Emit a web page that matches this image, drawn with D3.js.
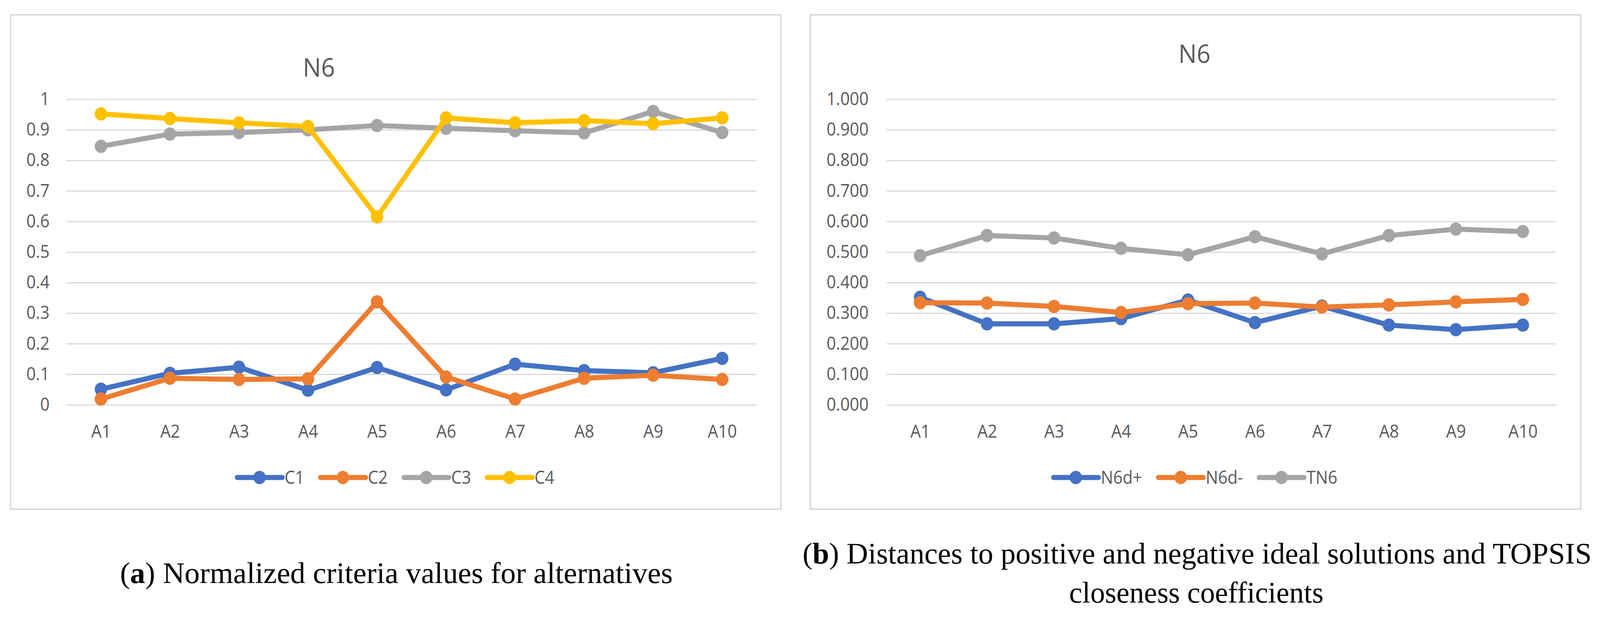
<!DOCTYPE html>
<html>
<head>
<meta charset="utf-8">
<script src="https://cdn.jsdelivr.net/npm/d3@7"></script>
<style>
  html, body { margin: 0; padding: 0; background: #fff; overflow: hidden; }
  #fig { display: block; width: 100vw; height: 100vh; }
  text { font-family: "Open Sans", "Noto Sans", sans-serif; }
</style>
</head>
<body>
<svg id="fig" viewBox="0 0 4360 1579" preserveAspectRatio="none"></svg>
<script>
// categories (alternatives)
const alternatives = ["A1", "A2", "A3", "A4", "A5", "A6", "A7", "A8", "A9", "A10"];

// panel (a): normalized criteria values
const c1 = [0.051, 0.103, 0.123, 0.048, 0.122, 0.049, 0.133, 0.112, 0.105, 0.152];
const c2 = [0.019, 0.087, 0.083, 0.085, 0.337, 0.091, 0.019, 0.087, 0.097, 0.083];
const c3 = [0.846, 0.886, 0.891, 0.900, 0.914, 0.905, 0.897, 0.890, 0.960, 0.891];
const c4 = [0.952, 0.937, 0.923, 0.911, 0.615, 0.939, 0.923, 0.930, 0.920, 0.939];

// panel (b): distances and closeness coefficients
const n6dPlus = [0.352, 0.265, 0.265, 0.282, 0.343, 0.269, 0.323, 0.261, 0.246, 0.261];
const n6dMinus = [0.334, 0.333, 0.322, 0.302, 0.331, 0.333, 0.320, 0.327, 0.337, 0.345];
const tn6 = [0.488, 0.554, 0.546, 0.512, 0.491, 0.550, 0.494, 0.554, 0.575, 0.567];

const yTicks = [0, 0.1, 0.2, 0.3, 0.4, 0.5, 0.6, 0.7, 0.8, 0.9, 1];

const blue = "#4472C4", orange = "#ED7D31", grey = "#A5A5A5", gold = "#FFC000";

const svg = d3.select("#fig");
svg.append("rect").attr("width", 4360).attr("height", 1579).attr("fill", "#fff");

function drawPanel(cfg) {
    const g = svg.append("g");

    // chart frame
    g.append("rect")
        .attr("x", cfg.box[0]).attr("y", 38)
        .attr("width", cfg.box[1] - cfg.box[0]).attr("height", 1265)
        .attr("fill", "#fff").attr("stroke", "#d9d9d9").attr("stroke-width", 4);

    var x = d3.scalePoint()
        .domain(alternatives)
        .range([cfg.plot[0], cfg.plot[1]])
        .padding(0.5);

    var y = d3.scaleLinear()
        .domain([0, 1])
        .range([1036, 254]);

    // Y axis + gridlines
    var yAxis = g.append("g")
        .attr("transform", "translate(" + cfg.plot[0] + ",0)")
        .call(d3.axisLeft(y).tickValues(yTicks).tickFormat(cfg.fmt)
            .tickSize(-(cfg.plot[1] - cfg.plot[0])).tickPadding(cfg.pad));
    yAxis.select(".domain").remove();
    yAxis.selectAll("line").attr("stroke", "#d9d9d9").attr("stroke-width", 3);
    yAxis.selectAll("text").attr("fill", "#595959").style("font-size", "45px");

    // X axis
    var xAxis = g.append("g")
        .attr("transform", "translate(0,1036)")
        .call(d3.axisBottom(x).tickSize(0).tickPadding(52));
    xAxis.select(".domain").remove();
    xAxis.selectAll("text").attr("fill", "#595959").style("font-size", "45px");

    // title
    g.append("text")
        .attr("x", cfg.title[0]).attr("y", cfg.title[1])
        .attr("text-anchor", "middle")
        .attr("fill", "#595959")
        .style("font-size", "66px")
        .text("N6");

    // series
    var line = d3.line()
        .x((d, i) => x(alternatives[i]))
        .y(d => y(d));

    cfg.series.forEach(s => {
        g.append("path")
            .datum(s.values)
            .attr("d", line)
            .attr("fill", "none")
            .attr("stroke", s.color)
            .attr("stroke-width", 13)
            .attr("stroke-linejoin", "round");
        g.selectAll(null)
            .data(s.values)
            .enter()
            .append("circle")
            .attr("cx", (d, i) => x(alternatives[i]))
            .attr("cy", d => y(d))
            .attr("r", 17)
            .attr("fill", s.color);
    });

    // legend, centered in frame
    var leg = g.append("g");
    var cursor = 0;
    cfg.series.forEach((s, i) => {
        var item = leg.append("g").attr("transform", "translate(" + cursor + ",0)");
        item.append("line")
            .attr("x1", 0).attr("x2", 123).attr("y1", 0).attr("y2", 0)
            .attr("stroke", s.color).attr("stroke-width", 13)
            .attr("stroke-linecap", "round");
        item.append("circle").attr("cx", 61).attr("cy", 0).attr("r", 17).attr("fill", s.color);
        var t = item.append("text")
            .attr("x", 129).attr("y", 0).attr("dy", "0.35em")
            .attr("fill", "#595959")
            .style("font-size", "45px")
            .text(s.name);
        cursor += 129 + t.node().getComputedTextLength() + (i < cfg.series.length - 1 ? 44 : 0);
    });
    var mid = (cfg.box[0] + cfg.box[1]) / 2;
    leg.attr("transform", "translate(" + (mid - cursor / 2) + ",1222)");
}

drawPanel({
    box: [29, 2128],
    plot: [181, 2062],
    pad: 46,
    title: [869, 196],
    fmt: d3.format(""),
    series: [
        { name: "C1", values: c1, color: blue },
        { name: "C2", values: c2, color: orange },
        { name: "C3", values: c3, color: grey },
        { name: "C4", values: c4, color: gold }
    ]
});

drawPanel({
    box: [2208, 4307],
    plot: [2416, 4241],
    pad: 49,
    title: [3255, 161],
    fmt: d3.format(".3f"),
    series: [
        { name: "N6d+", values: n6dPlus, color: blue },
        { name: "N6d-", values: n6dMinus, color: orange },
        { name: "TN6", values: tn6, color: grey }
    ]
});

// captions (widths matched to the reference typesetting)
const serif = '"Palatino Linotype", "Book Antiqua", Palatino, "Liberation Serif", serif';
var capA = svg.append("text")
    .attr("x", 1080).attr("y", 1492)
    .attr("text-anchor", "middle")
    .attr("textLength", 1506).attr("lengthAdjust", "spacingAndGlyphs")
    .style("font-family", serif).style("font-size", "77px").attr("fill", "#000");
capA.append("tspan").text("(");
capA.append("tspan").style("font-weight", "bold").text("a");
capA.append("tspan").text(") Normalized criteria values for alternatives");

var capB = svg.append("text")
    .attr("x", 3262).attr("y", 1442)
    .attr("text-anchor", "middle")
    .attr("textLength", 2150).attr("lengthAdjust", "spacingAndGlyphs")
    .style("font-family", serif).style("font-size", "77px").attr("fill", "#000");
capB.append("tspan").text("(");
capB.append("tspan").style("font-weight", "bold").text("b");
capB.append("tspan").text(") Distances to positive and negative ideal solutions and TOPSIS");

svg.append("text")
    .attr("x", 3260).attr("y", 1542)
    .attr("text-anchor", "middle")
    .attr("textLength", 693).attr("lengthAdjust", "spacingAndGlyphs")
    .style("font-family", serif).style("font-size", "77px").attr("fill", "#000")
    .text("closeness coefficients");
</script>
</body>
</html>
